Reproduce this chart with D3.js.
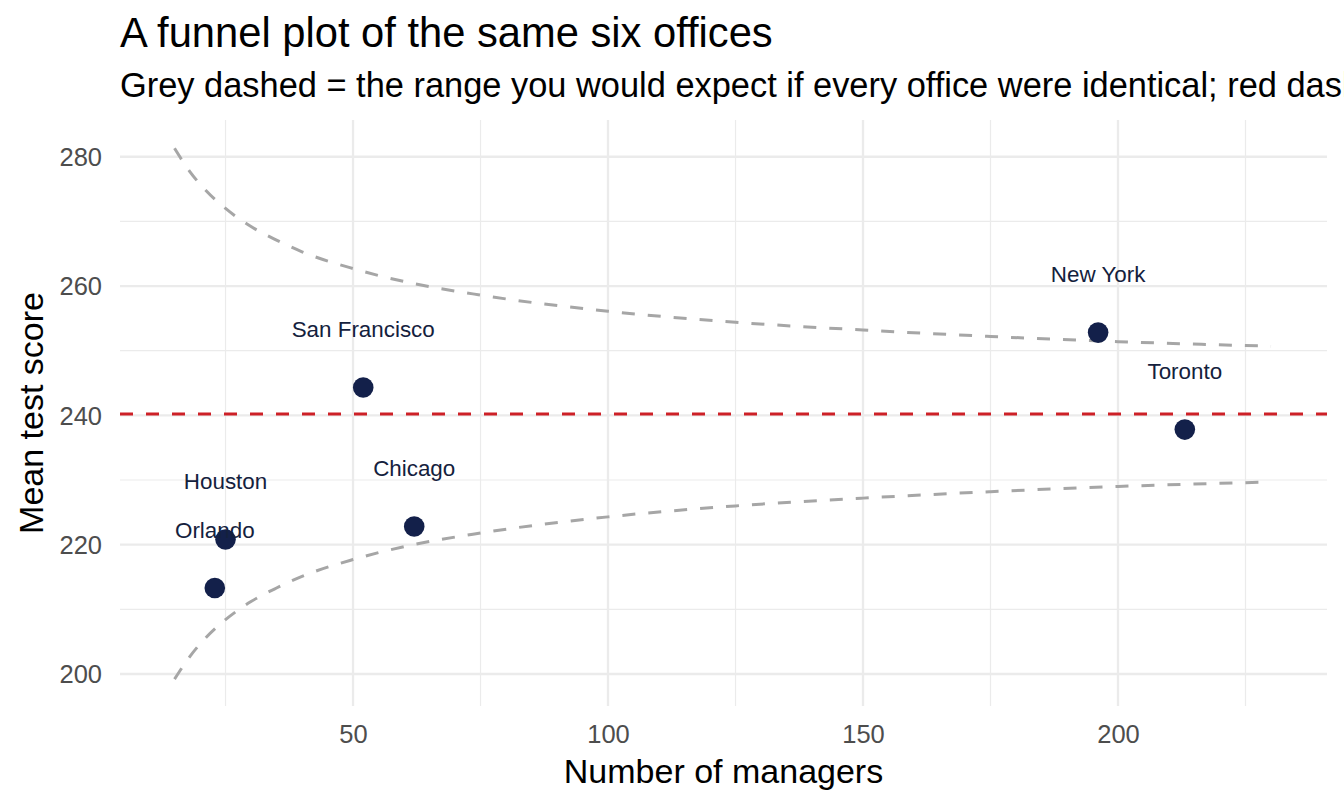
<!DOCTYPE html>
<html>
<head>
<meta charset="utf-8">
<script src="https://cdn.jsdelivr.net/npm/d3@7"></script>
<style>
  body { margin: 0; background: #ffffff; overflow: hidden; }
  svg { display: block; font-family: "Liberation Sans", Arial, Helvetica, sans-serif; }
</style>
</head>
<body>
<div id="funnel-plot"></div>
<script>
// Offices
const offices = ["Orlando", "Houston", "San Francisco", "Chicago", "New York", "Toronto"];
const managers = [22.9, 25.0, 52.0, 62.0, 196.1, 213.1];
const meanScores = [213.3, 220.8, 244.3, 222.8, 252.8, 237.8];
const overallMean = 240.2;

// Funnel limits
const funnelN = [15, 18, 21, 25, 30, 35, 40, 50, 60, 75, 100, 125, 150, 175, 200, 230];
const funnelUpper = [281.3, 277.7, 274.9, 272.0, 269.2, 267.1, 265.3, 262.7, 260.7, 258.6, 256.1, 254.4, 253.2, 252.2, 251.4, 250.7];
const funnelLower = [199.2, 202.7, 205.5, 208.4, 211.2, 213.3, 215.1, 217.7, 219.7, 221.8, 224.3, 226.0, 227.2, 228.2, 229.0, 229.7];

// Ticks
const xTicks = [50, 100, 150, 200];
const xMinor = [25, 75, 125, 175, 225];
const yTicks = [200, 220, 240, 260, 280];
const yMinor = [210, 230, 250, 270];

const W = 1344, H = 806;
const panel = { left: 120, right: 1327, top: 120, bottom: 706 };
const labelNudge = 9; // data units above each point

const svg = d3.select("#funnel-plot")
    .append("svg")
    .attr("width", W)
    .attr("height", H);

const x = d3.scaleLinear()
    .domain([4.31, 240.98])
    .range([panel.left, panel.right]);

const y = d3.scaleLinear()
    .domain([195.05, 285.68])
    .range([panel.bottom, panel.top]);

// Grid (theme_minimal look)
const grid = svg.append("g");

grid.selectAll(".minor-x")
    .data(xMinor)
    .join("line")
    .attr("x1", d => x(d)).attr("x2", d => x(d))
    .attr("y1", panel.top).attr("y2", panel.bottom)
    .attr("stroke", "#ebebeb")
    .attr("stroke-width", 1.2);

grid.selectAll(".minor-y")
    .data(yMinor)
    .join("line")
    .attr("y1", d => y(d)).attr("y2", d => y(d))
    .attr("x1", panel.left).attr("x2", panel.right)
    .attr("stroke", "#ebebeb")
    .attr("stroke-width", 1.2);

grid.selectAll(".major-x")
    .data(xTicks)
    .join("line")
    .attr("x1", d => x(d)).attr("x2", d => x(d))
    .attr("y1", panel.top).attr("y2", panel.bottom)
    .attr("stroke", "#ebebeb")
    .attr("stroke-width", 2.3);

grid.selectAll(".major-y")
    .data(yTicks)
    .join("line")
    .attr("y1", d => y(d)).attr("y2", d => y(d))
    .attr("x1", panel.left).attr("x2", panel.right)
    .attr("stroke", "#ebebeb")
    .attr("stroke-width", 2.3);

// Axes: labels only, no lines
const xAxis = svg.append("g")
    .attr("transform", `translate(0, ${panel.bottom})`)
    .call(d3.axisBottom(x).tickValues(xTicks).tickSize(0).tickPadding(0));
xAxis.select(".domain").remove();
xAxis.selectAll("text")
    .attr("y", 37)
    .attr("dy", 0)
    .style("font-family", "Liberation Sans, Arial, sans-serif")
    .style("font-size", "25.5px")
    .attr("fill", "#4d4d4d");

const yAxis = svg.append("g")
    .attr("transform", `translate(${panel.left}, 0)`)
    .call(d3.axisLeft(y).tickValues(yTicks).tickSize(0).tickPadding(0));
yAxis.select(".domain").remove();
yAxis.selectAll("text")
    .attr("x", -18)
    .attr("dy", "0.35em")
    .style("font-family", "Liberation Sans, Arial, sans-serif")
    .style("font-size", "25.5px")
    .attr("fill", "#4d4d4d");

// Funnel limits
const funnelLine = (vals) => d3.line()
    .x((d, i) => x(funnelN[i]))
    .y(d => y(d))
    .curve(d3.curveMonotoneX)(vals);

svg.selectAll(".funnel")
    .data([funnelUpper, funnelLower])
    .join("path")
    .attr("class", "funnel")
    .attr("d", d => funnelLine(d))
    .attr("fill", "none")
    .attr("stroke", "#a6a6a6")
    .attr("stroke-width", 3)
    .attr("stroke-dasharray", "13,13");

// Overall mean
svg.append("line")
    .attr("x1", panel.left).attr("x2", panel.right)
    .attr("y1", y(overallMean)).attr("y2", y(overallMean))
    .attr("stroke", "#cd2027")
    .attr("stroke-width", 3)
    .attr("stroke-dasharray", "13,13");

// Offices
svg.selectAll(".office")
    .data(offices)
    .join("circle")
    .attr("class", "office")
    .attr("cx", (d, i) => x(managers[i]))
    .attr("cy", (d, i) => y(meanScores[i]))
    .attr("r", 10.3)
    .attr("fill", "#13204a");

svg.selectAll(".office-label")
    .data(offices)
    .join("text")
    .attr("class", "office-label")
    .attr("x", (d, i) => x(managers[i]))
    .attr("y", (d, i) => y(meanScores[i] + labelNudge))
    .attr("dy", "0.35em")
    .attr("text-anchor", "middle")
    .style("font-size", "22.4px")
    .attr("fill", "#14213d")
    .text(d => d);

// Axis titles
svg.append("text")
    .attr("x", (panel.left + panel.right) / 2)
    .attr("y", 783)
    .attr("text-anchor", "middle")
    .style("font-size", "34px")
    .attr("fill", "#000000")
    .text("Number of managers");

svg.append("text")
    .attr("transform", `translate(43, ${(panel.top + panel.bottom) / 2}) rotate(-90)`)
    .attr("text-anchor", "middle")
    .style("font-size", "34px")
    .attr("fill", "#000000")
    .text("Mean test score");

// Title and subtitle (subtitle runs off the right edge, as in the original)
svg.append("text")
    .attr("x", 120)
    .attr("y", 47)
    .style("font-size", "41.7px")
    .attr("fill", "#000000")
    .text("A funnel plot of the same six offices");

svg.append("text")
    .attr("x", 120)
    .attr("y", 97)
    .style("font-size", "34.4px")
    .attr("fill", "#000000")
    .text("Grey dashed = the range you would expect if every office were identical; red dashed = the overall mean");
</script>
</body>
</html>
